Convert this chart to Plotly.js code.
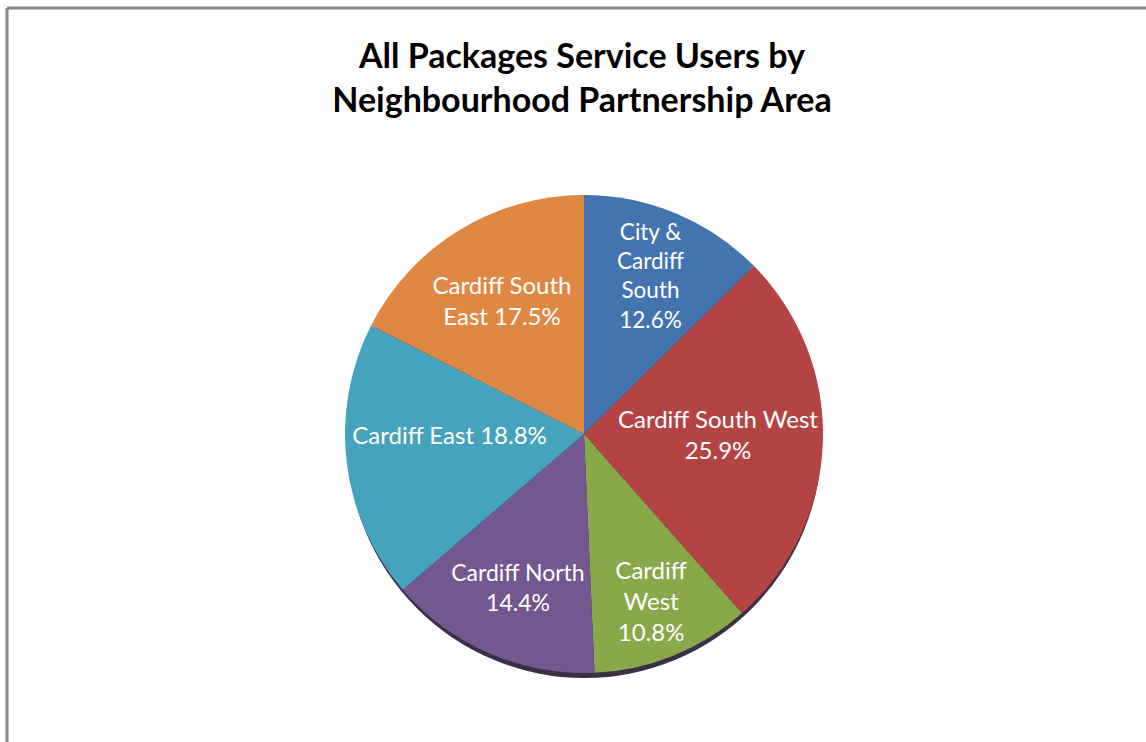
<!DOCTYPE html>
<html>
<head>
<meta charset="utf-8">
<script src="https://cdn.plot.ly/plotly-3.0.1.min.js"></script>
<style>html,body{margin:0;padding:0;background:#fff;}#chart{width:1146px;height:742px;}</style>
</head>
<body>
<div id="chart"></div>
<script>
const categories = ["City & Cardiff South", "Cardiff South West", "Cardiff West", "Cardiff North", "Cardiff East", "Cardiff South East"];
const values = [12.6, 25.9, 10.8, 14.4, 18.8, 17.5];
const labelText = ["City &<br>Cardiff<br>South<br>12.6%", "Cardiff South West<br>25.9%", "Cardiff<br>West<br>10.8%", "Cardiff North<br>14.4%", "Cardiff East 18.8%", "Cardiff South<br>East 17.5%"];
const colors = ["#4474B0", "#B44444", "#88A84A", "#72588E", "#46A3BD", "#DF8844"];

const W = 1146, H = 742;
const cx = 584, cy = 434, r = 239;

const trace = {
  type: "pie",
  labels: categories,
  values: values,
  text: labelText,
  textinfo: "text",
  texttemplate: "%{text}",
  sort: false,
  direction: "clockwise",
  rotation: 0,
  hoverinfo: "label+percent",
  marker: {colors: colors, line: {width: 0}},
  textposition: "inside",
  insidetextorientation: "horizontal",
  insidetextfont: {family: "Lato, sans-serif", size: 24, color: "#ffffff"},
  showlegend: false,
  domain: {x: [(cx - r) / W, (cx + r) / W], y: [(H - cy - r) / H, (H - cy + r) / H]}
};

const layout = {
  width: W, height: H,
  margin: {l: 0, r: 0, t: 0, b: 0},
  paper_bgcolor: "#ffffff",
  title: {
    text: "<b>All Packages Service Users by<br>Neighbourhood Partnership Area</b>",
    font: {family: "Lato, sans-serif", size: 34, color: "#000000"},
    x: 582 / W, xanchor: "center", y: 1 - 68 / H, yanchor: "top"
  },
  shapes: [
    {type: "line", xref: "paper", yref: "paper", x0: 7 / W, x1: 7 / W, y0: 0, y1: 1 - 8 / H, line: {color: "#888888", width: 3}},
    {type: "line", xref: "paper", yref: "paper", x0: 7 / W, x1: 1, y0: 1 - 8 / H, y1: 1 - 8 / H, line: {color: "#888888", width: 3}},
    {type: "circle", xref: "paper", yref: "paper", layer: "below",
     x0: (cx - r + 2) / W, x1: (cx + r - 1) / W, y0: (H - cy - r - 5) / H, y1: (H - cy + r - 5) / H,
     fillcolor: "#3a2f45", line: {width: 0}}
  ]
};

Plotly.newPlot("chart", [trace], layout, {displayModeBar: false, staticPlot: true});
</script>
</body>
</html>
